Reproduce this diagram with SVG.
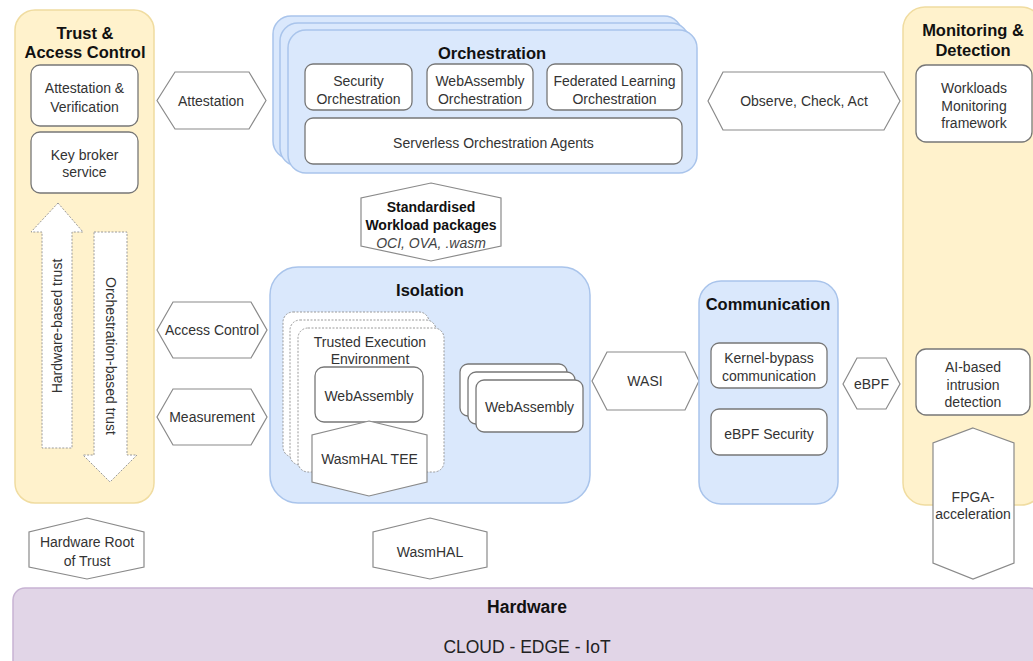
<svg xmlns="http://www.w3.org/2000/svg" width="1033" height="661" viewBox="0 0 1033 661">
  <defs>
    <style>
      text { font-family: "Liberation Sans", Arial, sans-serif; text-anchor: middle; dominant-baseline: central; }
      .t { font-size: 14px; fill: #333333; }
      .ti { font-size: 14px; fill: #444444; font-style: italic; }
      .h { font-size: 16.5px; font-weight: bold; fill: #111111; }
      .hb { font-size: 14px; font-weight: bold; fill: #111111; }
      .yel { fill: #fff2cc; stroke: #f0dca0; stroke-width: 1.5; }
      .blu { fill: #dae8fc; stroke: #a9c4eb; stroke-width: 1.5; }
      .pur { fill: #e1d5e7; stroke: #c7b3d3; stroke-width: 1.5; }
      .box { fill: #ffffff; stroke: #777777; stroke-width: 1.3; }
      .hex { fill: #ffffff; stroke: #8a8a8a; stroke-width: 1.2; }
      .dot { fill: #ffffff; stroke: #9a9a9a; stroke-width: 1; stroke-dasharray: 2 1.5; }
    </style>
  </defs>

  <rect width="1033" height="661" fill="#ffffff"/>

  <!-- Hardware layer -->
  <g id="hardware">
    <rect class="pur" x="13" y="588" width="1028" height="92" rx="12"/>
    <text class="h" x="527" y="607" style="font-size:17.5px">Hardware</text>
    <text class="t" x="527" y="647" style="font-size:17.5px;fill:#222">CLOUD - EDGE - IoT</text>
  </g>

  <!-- Trust & Access Control -->
  <g id="trust-access-control">
    <rect class="yel" x="15" y="10" width="139" height="493" rx="20"/>
    <text class="h" x="85" y="33">Trust &amp;</text>
    <text class="h" x="85" y="52">Access Control</text>
  </g>
  <g id="attestation-verification">
    <rect class="box" x="31" y="65" width="107" height="61" rx="9"/>
    <text class="t" x="84.5" y="88">Attestation &amp;</text>
    <text class="t" x="84.5" y="107">Verification</text>
  </g>
  <g id="key-broker">
    <rect class="box" x="31" y="132" width="107" height="61" rx="9"/>
    <text class="t" x="84.5" y="155">Key broker</text>
    <text class="t" x="84.5" y="172">service</text>
  </g>
  <g id="hardware-based-trust">
    <polygon class="dot" points="58,203 83,232 72,232 72,448 42,448 42,232 31,232"/>
    <text class="t" transform="translate(57,326) rotate(-90)">Hardware-based trust</text>
  </g>
  <g id="orchestration-based-trust">
    <polygon class="dot" points="94,232 127,232 127,455 137,455 110,482 83,455 94,455"/>
    <text class="t" transform="translate(111,356) rotate(90)">Orchestration-based trust</text>
  </g>

  <!-- Orchestration -->
  <g id="orchestration">
    <rect class="blu" x="273" y="16" width="409" height="143" rx="18"/>
    <rect class="blu" x="280" y="23" width="409" height="143" rx="18"/>
    <rect class="blu" x="288" y="30" width="409" height="143" rx="18"/>
    <text class="h" x="492" y="53">Orchestration</text>
  </g>
  <g id="security-orchestration">
    <rect class="box" x="305" y="64" width="107" height="46" rx="8"/>
    <text class="t" x="358.5" y="81">Security</text>
    <text class="t" x="358.5" y="99">Orchestration</text>
  </g>
  <g id="webassembly-orchestration">
    <rect class="box" x="427" y="64" width="106" height="46" rx="8"/>
    <text class="t" x="480" y="81">WebAssembly</text>
    <text class="t" x="480" y="99">Orchestration</text>
  </g>
  <g id="federated-learning-orchestration">
    <rect class="box" x="547" y="64" width="135" height="46" rx="8"/>
    <text class="t" x="614.5" y="81">Federated Learning</text>
    <text class="t" x="614.5" y="99">Orchestration</text>
  </g>
  <g id="serverless-agents">
    <rect class="box" x="305" y="118" width="377" height="46" rx="8"/>
    <text class="t" x="493.5" y="143">Serverless Orchestration Agents</text>
  </g>

  <!-- Standardised workload packages -->
  <g id="workload-packages">
    <polygon class="hex" points="431,183 501,198 501,246 431,261 361,246 361,198"/>
    <text class="hb" x="431" y="207">Standardised</text>
    <text class="hb" x="431" y="225">Workload packages</text>
    <text class="ti" x="431" y="243">OCI, OVA, .wasm</text>
  </g>

  <!-- Interfaces between trust column and the stack -->
  <g id="attestation">
    <polygon class="hex" points="157,100.5 175,72 249,72 266,100.5 249,129 175,129"/>
    <text class="t" x="211" y="101">Attestation</text>
  </g>
  <g id="access-control">
    <polygon class="hex" points="157,330 173,302 251,302 267,330 251,358 173,358"/>
    <text class="t" x="212" y="330">Access Control</text>
  </g>
  <g id="measurement">
    <polygon class="hex" points="157,417 173,389 251,389 267,417 251,445 173,445"/>
    <text class="t" x="212" y="417">Measurement</text>
  </g>

  <!-- Isolation -->
  <g id="isolation">
    <rect class="blu" x="270" y="267" width="320" height="236" rx="28"/>
    <text class="h" x="430" y="290">Isolation</text>
  </g>
  <g id="tee">
    <rect class="dot" x="283" y="312" width="146" height="145" rx="10"/>
    <rect class="dot" x="290" y="320" width="146" height="145" rx="10"/>
    <rect class="dot" x="298" y="328" width="146" height="144" rx="10"/>
    <text class="t" x="370" y="342">Trusted Execution</text>
    <text class="t" x="370" y="359">Environment</text>
  </g>
  <g id="tee-webassembly">
    <rect class="box" x="315" y="367" width="108" height="55" rx="9"/>
    <text class="t" x="369" y="396">WebAssembly</text>
  </g>
  <g id="wasmhal-tee">
    <polygon class="hex" points="369,421 427,435 427,482 369,496 312,482 312,435"/>
    <text class="t" x="369.5" y="459">WasmHAL TEE</text>
  </g>
  <g id="webassembly-instances">
    <rect class="box" x="460" y="364" width="107" height="52" rx="8"/>
    <rect class="box" x="468" y="372" width="107" height="52" rx="8"/>
    <rect class="box" x="476" y="380" width="107" height="52" rx="8"/>
    <text class="t" x="529.5" y="407">WebAssembly</text>
  </g>

  <g id="wasi">
    <polygon class="hex" points="592,381 607,352 685,352 699,381 685,410 607,410"/>
    <text class="t" x="645" y="381">WASI</text>
  </g>

  <!-- Communication -->
  <g id="communication">
    <rect class="blu" x="699" y="281" width="139" height="223" rx="22"/>
    <text class="h" x="768" y="304">Communication</text>
  </g>
  <g id="kernel-bypass">
    <rect class="box" x="711" y="343" width="116" height="45" rx="8"/>
    <text class="t" x="769" y="358">Kernel-bypass</text>
    <text class="t" x="769" y="376">communication</text>
  </g>
  <g id="ebpf-security">
    <rect class="box" x="711" y="409" width="116" height="46" rx="8"/>
    <text class="t" x="769" y="434">eBPF Security</text>
  </g>

  <g id="ebpf">
    <polygon class="hex" points="843,384 857,358 886,358 900,384 886,409 857,409"/>
    <text class="t" x="871.5" y="384">eBPF</text>
  </g>

  <g id="observe-check-act">
    <polygon class="hex" points="708,101 723,72 884,72 900,101 884,130 723,130"/>
    <text class="t" x="804" y="101">Observe, Check, Act</text>
  </g>

  <!-- Monitoring & Detection -->
  <g id="monitoring-detection">
    <rect class="yel" x="903" y="7" width="140" height="498" rx="22"/>
    <text class="h" x="973" y="30">Monitoring &amp;</text>
    <text class="h" x="973" y="50">Detection</text>
  </g>
  <g id="workloads-monitoring">
    <rect class="box" x="916" y="65" width="116" height="77" rx="10"/>
    <text class="t" x="974" y="88">Workloads</text>
    <text class="t" x="974" y="106">Monitoring</text>
    <text class="t" x="974" y="123">framework</text>
  </g>
  <g id="ai-intrusion-detection">
    <rect class="box" x="916" y="349" width="114" height="66" rx="10"/>
    <text class="t" x="973" y="367">AI-based</text>
    <text class="t" x="973" y="385">intrusion</text>
    <text class="t" x="973" y="402">detection</text>
  </g>
  <g id="fpga-acceleration">
    <polygon class="hex" points="973,428 1014,443 1014,563 973,579 933,563 933,443"/>
    <text class="t" x="973" y="497">FPGA-</text>
    <text class="t" x="973" y="514">acceleration</text>
  </g>

  <!-- Hardware-facing interfaces -->
  <g id="hardware-root-of-trust">
    <polygon class="hex" points="87,518 144,532 144,567 87,579 29,567 29,532"/>
    <text class="t" x="87" y="542">Hardware Root</text>
    <text class="t" x="87" y="561">of Trust</text>
  </g>
  <g id="wasmhal">
    <polygon class="hex" points="430,518 487,532 487,567 430,579 373,567 373,532"/>
    <text class="t" x="430" y="552">WasmHAL</text>
  </g>

  <g id="connectors"/>
</svg>
